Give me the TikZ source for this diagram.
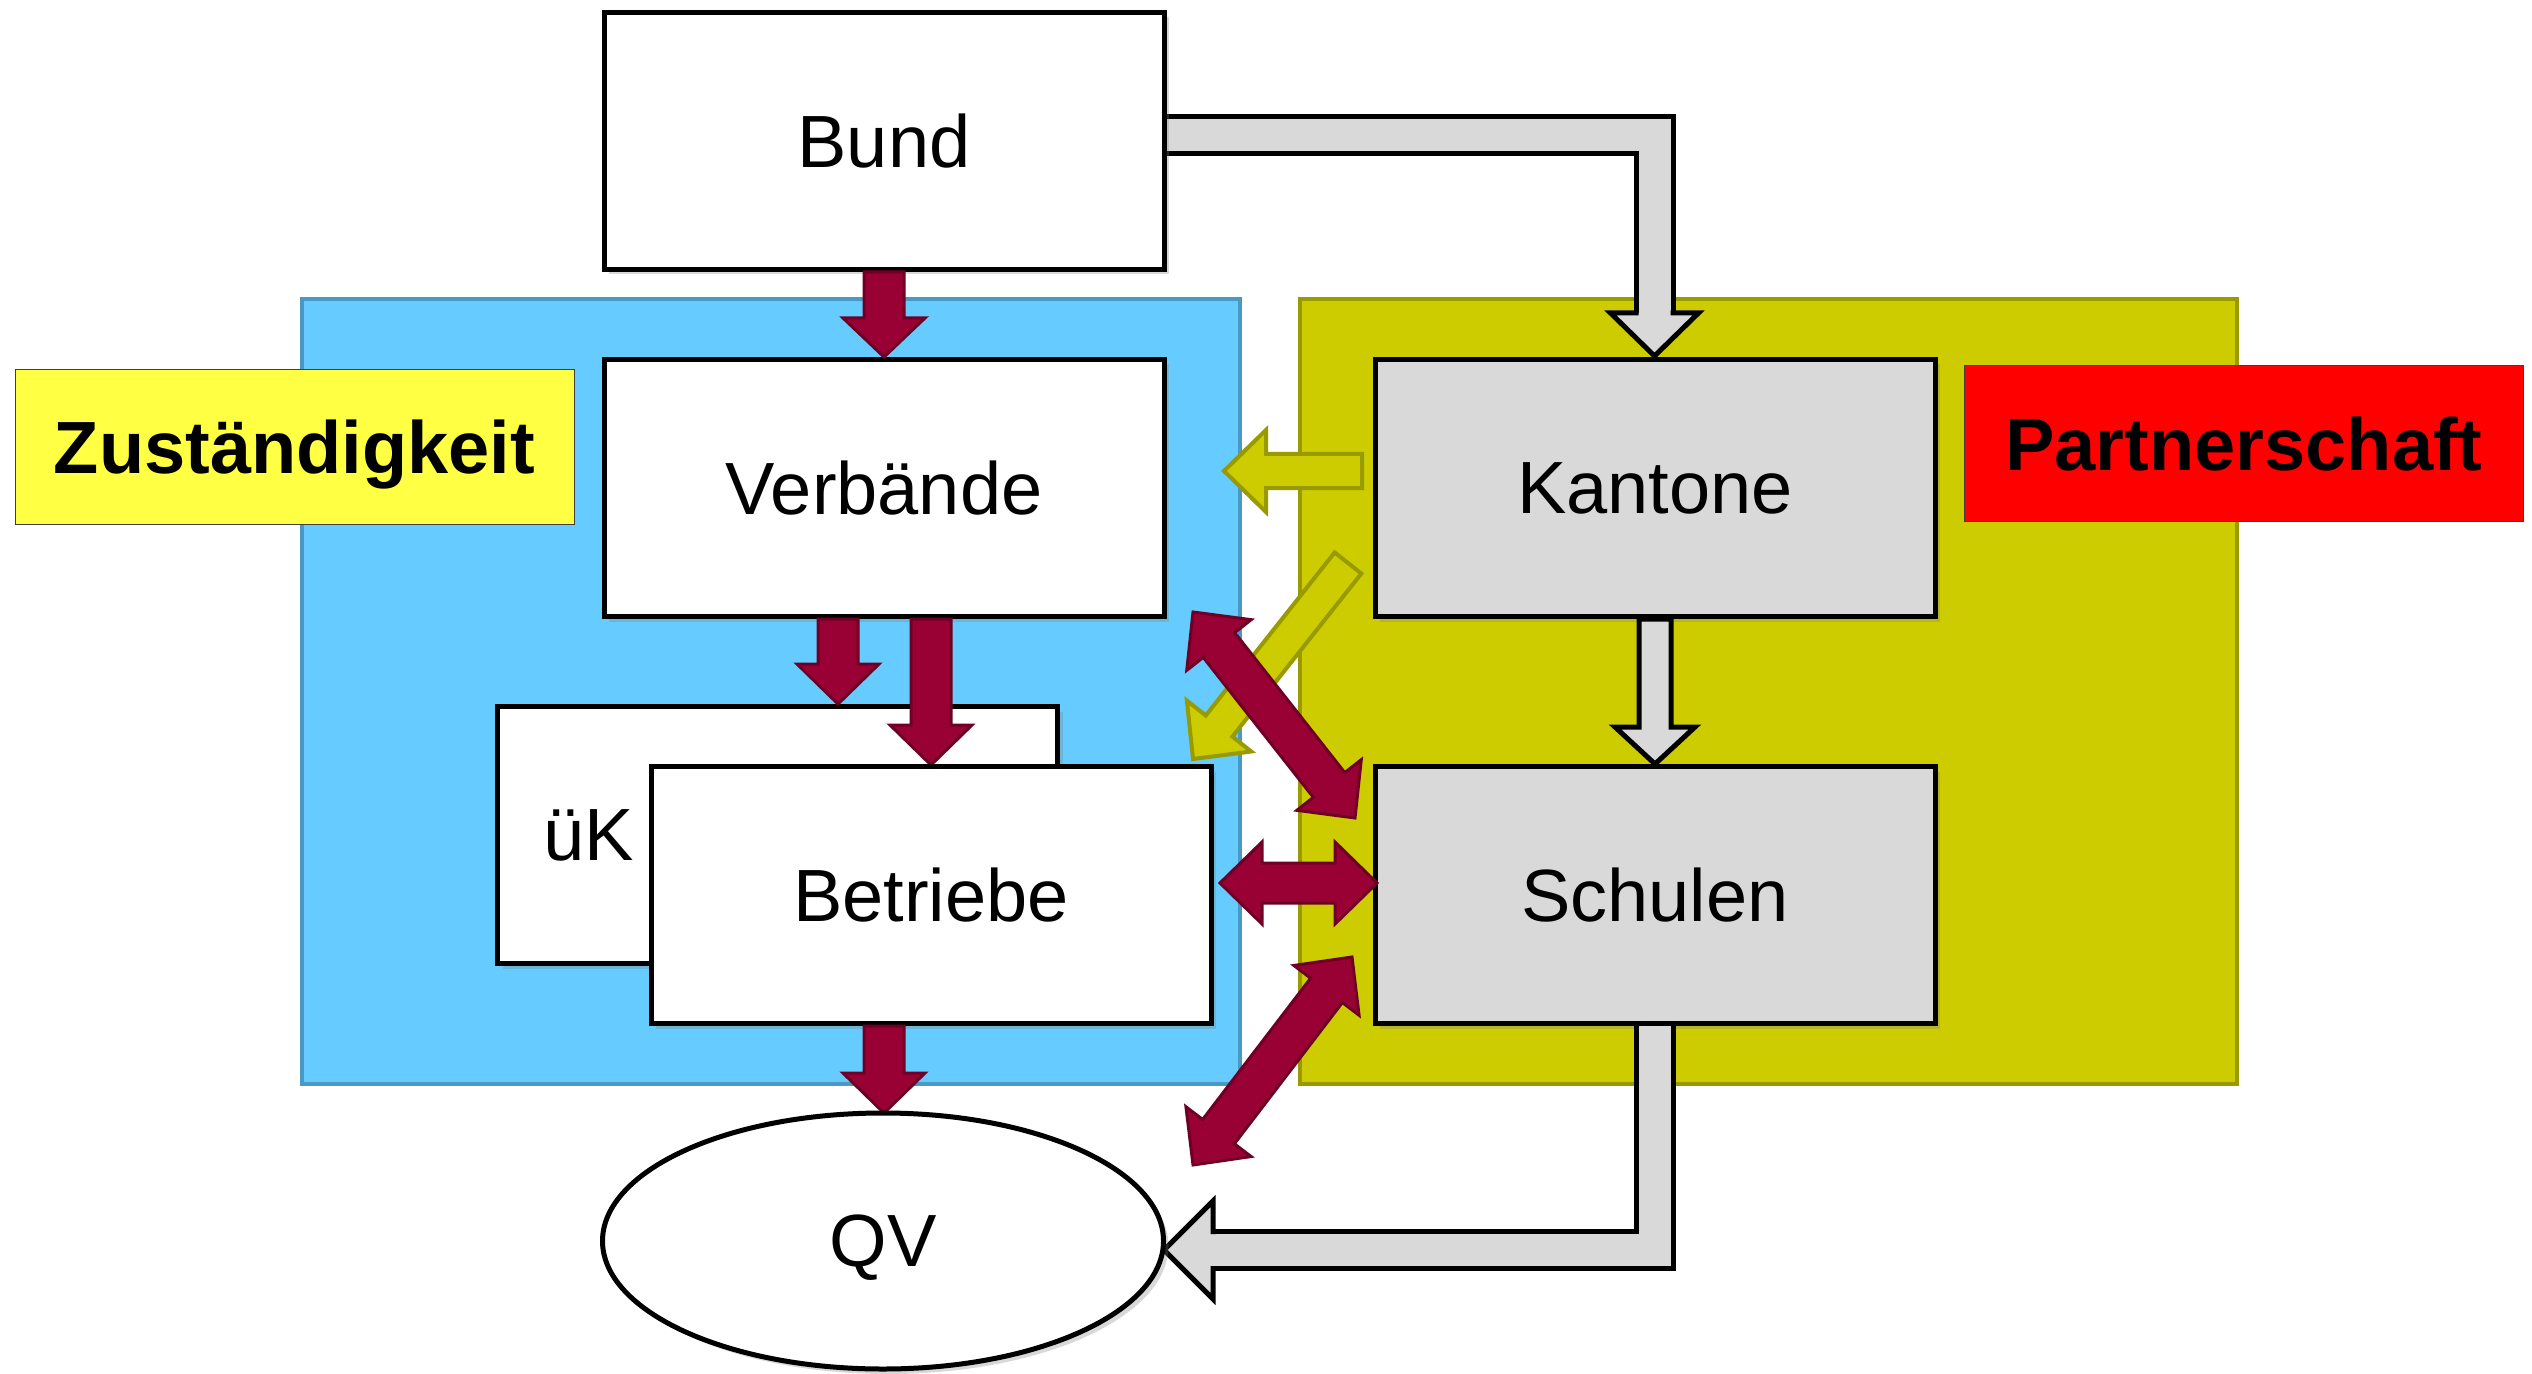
\documentclass[tikz,border=0pt]{standalone}
\usepackage{fontspec}
\setmainfont{Liberation Sans}
\usetikzlibrary{calc,shapes.geometric,shadows}

\definecolor{blueA}{HTML}{66CCFF}
\definecolor{blueB}{HTML}{4A98C4}
\definecolor{oliveA}{HTML}{CCCC00}
\definecolor{oliveB}{HTML}{999900}
\definecolor{redA}{HTML}{990033}
\definecolor{redB}{HTML}{6E0026}
\definecolor{grayA}{HTML}{D9D9D9}
\definecolor{yelA}{HTML}{FFFF44}

% single block arrow: style, from, to, shaft half width, head half width, head length
\newcommand\blockarrow[6]{%
  \coordinate (bahb) at ($(#3)!#6!(#2)$);
  \filldraw[#1] ($(#2)!#4!90:(#3)$) -- ($(bahb)!#4!90:(#3)$) -- ($(bahb)!#5!90:(#3)$) -- (#3)
    -- ($(bahb)!#5!-90:(#3)$) -- ($(bahb)!#4!-90:(#3)$) -- ($(#2)!#4!-90:(#3)$) -- cycle;
}
% double block arrow
\newcommand\dblarrow[6]{%
  \coordinate (daha) at ($(#2)!#6!(#3)$);
  \coordinate (dahb) at ($(#3)!#6!(#2)$);
  \filldraw[#1] (#2) -- ($(daha)!#5!90:(#3)$) -- ($(daha)!#4!90:(#3)$) -- ($(dahb)!#4!90:(#3)$)
    -- ($(dahb)!#5!90:(#3)$) -- (#3) -- ($(dahb)!#5!-90:(#3)$) -- ($(dahb)!#4!-90:(#3)$)
    -- ($(daha)!#4!-90:(#3)$) -- ($(daha)!#5!-90:(#3)$) -- cycle;
}

\begin{document}
\begin{tikzpicture}[x=0.5pt,y=-0.5pt,
  box/.style={draw=black, line width=2.5pt, fill=white, minimum width=280pt, minimum height=128.5pt,
    inner sep=0pt, font=\fontsize{37}{44}\selectfont, text depth=0pt,
    drop shadow={shadow xshift=2.5pt, shadow yshift=-2.5pt, opacity=0.3}},
  tag/.style={draw=black!75, line width=0.5pt, minimum width=279.5pt, minimum height=77.5pt,
    inner sep=0pt, font=\fontsize{37}{44}\selectfont\bfseries, text depth=0pt},
  redarrow/.style={fill=redA, draw=redB, line width=1.5pt, line join=miter},
  olivearrow/.style={fill=oliveA, draw=oliveB, line width=2pt, line join=miter},
  grayarrow/.style={fill=grayA, draw=black, line width=2.5pt, line join=miter},
  region/.style={line width=2pt}
]
\useasboundingbox (0,0) rectangle (2532,1374);
\fill[white] (0,0) rectangle (2532,1374);

% regions
\draw[region, fill=blueA, draw=blueB] (302,299) rectangle (1240,1084);
\draw[region, fill=oliveA, draw=oliveB] (1300,299) rectangle (2237,1084);

% labels
\node[tag, fill=yelA] (zust) at (294.5,447) {Zuständigkeit};
\node[tag, fill=red] (partner) at (2244,443.5) {Partnerschaft};

% gray elbow arrow Bund -> Kantone (drawn below the boxes)
\coordinate (bkstart) at (1164,135);
\coordinate (bktip) at (1654.5,356);
\coordinate (bkhb) at ($(bktip)+(0,-43)$);
\coordinate (bkc) at (bkhb |- bkstart);
\draw[line width=21pt, black, line join=miter] (bkstart) -- (bkc) -- (bkhb);
\draw[line width=16pt, grayA, line join=miter] (bkstart) -- (bkc) -- (bkhb);
\fill[grayA] ($(bkhb)+(-16,0)$) -- ($(bkhb)+(-44,0)$) -- (bktip) -- ($(bkhb)+(44,0)$) -- ($(bkhb)+(16,0)$) -- cycle;
\draw[line width=2.5pt, line join=miter] ($(bkhb)+(-16,0)$) -- ($(bkhb)+(-44,0)$) -- (bktip) -- ($(bkhb)+(44,0)$) -- ($(bkhb)+(16,0)$);

% boxes
\node[box] (bund) at (884,141) {Bund};
\node[box] (verb) at (884,488) {Verbände};
\node[box, fill=grayA] (kant) at (1655,488) {Kantone};
\node[box, fill=grayA] (schul) at (1655,895) {Schulen};
\node[box] (uek) at (777.5,835) {\makebox[280pt][l]{\hspace{23pt}üK}};

% gray arrow Kantone -> Schulen
\blockarrow{grayarrow}{kant.south}{schul.north}{8pt}{20pt}{18.5pt}

% gray elbow arrow Schulen -> QV
\coordinate (sqtip) at (1164,1250);
\coordinate (sqhb) at ($(sqtip)+(49,0)$);
\coordinate (sqc) at (schul.south |- sqtip);
\draw[line width=21pt, black, line join=miter] (schul.south) -- (sqc) -- (sqhb);
\draw[line width=16pt, grayA, line join=miter] (schul.south) -- (sqc) -- (sqhb);
\fill[grayA] ($(sqhb)+(0,-16)$) -- ($(sqhb)+(0,-49)$) -- (sqtip) -- ($(sqhb)+(0,49)$) -- ($(sqhb)+(0,16)$) -- cycle;
\draw[line width=2.5pt, line join=miter] ($(sqhb)+(0,-16)$) -- ($(sqhb)+(0,-49)$) -- (sqtip) -- ($(sqhb)+(0,49)$) -- ($(sqhb)+(0,16)$);

% olive arrows from Kantone
\coordinate (ykv1) at (1362,471);
\coordinate (ykv2) at (1224,471);
\blockarrow{olivearrow}{ykv1}{ykv2}{8.5pt}{20.5pt}{21pt}
\coordinate (ykb1) at (1348,563);
\coordinate (ykb2) at (1193,759);
\blockarrow{olivearrow}{ykb1}{ykb2}{8.5pt}{20.5pt}{21pt}

% red arrows
\blockarrow{redarrow}{bund.south}{verb.north}{10pt}{20.5pt}{19.5pt}
\coordinate (vu1) at ($(verb.south)+(-46,0)$);
\coordinate (vu2) at (vu1 |- uek.north);
\blockarrow{redarrow}{vu1}{vu2}{10pt}{20.5pt}{20pt}
\coordinate (vb1) at (verb.south -| 931,0);
\coordinate (vb2) at (931,765);
\blockarrow{redarrow}{vb1}{vb2}{10pt}{20.5pt}{20pt}

\node[box] (betr) at (931,895) {Betriebe};

\coordinate (bq1) at (betr.south -| 884,0);
\coordinate (bq2) at (884,1113);
\blockarrow{redarrow}{bq1}{bq2}{10pt}{20.5pt}{20pt}

\coordinate (vs1) at (1193,612);
\coordinate (vs2) at (1355,818);
\dblarrow{redarrow}{vs1}{vs2}{10pt}{20.5pt}{21pt}
\coordinate (bs1) at (1220,883);
\coordinate (bs2) at (1377,883);
\dblarrow{redarrow}{bs1}{bs2}{10pt}{20.5pt}{21pt}
\coordinate (sq1) at (1352,957);
\coordinate (sq2) at (1193,1165);
\dblarrow{redarrow}{sq1}{sq2}{10pt}{20.5pt}{21pt}

% QV
\node[ellipse, draw=black, line width=2.5pt, fill=white, minimum width=280.5pt, minimum height=128pt,
  inner sep=0pt, font=\fontsize{37}{44}\selectfont, text depth=0pt,
  drop shadow={shadow xshift=2.5pt, shadow yshift=-2.5pt, opacity=0.3}] (qv) at (883,1241) {QV};
\end{tikzpicture}
\end{document}
